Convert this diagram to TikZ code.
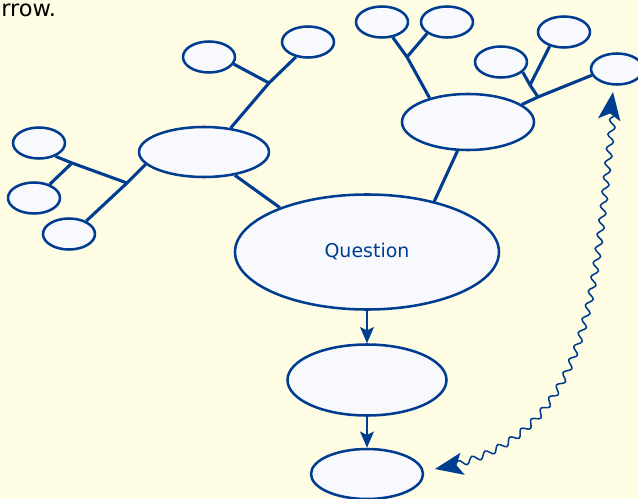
\documentclass[tikz,border=0pt]{standalone}
\usepackage{fontspec}
\setmainfont{DejaVu Sans}
\usetikzlibrary{arrows.meta, positioning, shapes.geometric, decorations.pathmorphing}
\definecolor{cink}{HTML}{003C8F}
\definecolor{cpaper}{HTML}{FEFDE3}
\definecolor{cbubble}{HTML}{F7F9FC}
\tikzset{
  every picture/.style={line width=1.8pt},
  bubble/.style 2 args={ellipse, draw=cink, fill=cbubble, inner sep=0pt, minimum width=#1*0.025cm, minimum height=#2*0.025cm},
  leaf/.style={bubble={52}{31}},
  edge/.style={draw=cink, line width=2.2pt},
  arrow/.style={-{Stealth[length=4mm, width=3.4mm, inset=0.8mm]}, draw=cink, line width=1.9pt},
  wavy/.style={{Stealth[length=7mm, width=5.6mm, inset=1.6mm]}-{Stealth[length=7mm, width=5.6mm, inset=1.6mm]}, draw=cink, line width=1.1pt,
    decorate, decoration={snake, amplitude=0.8mm, segment length=3.6mm, pre length=1.5mm, post length=1.5mm}},
  label/.style={font=\fontsize{13.5}{15}\selectfont, text=cink},
}

\begin{document}
\begin{tikzpicture}[x=0.025cm, y=0.025cm]
  \fill[cpaper] (0,0) rectangle (638,-499);
  \useasboundingbox (0,0) rectangle (638,-499);
  \node[anchor=base west, inner sep=0pt, font=\fontsize{16}{18}\selectfont] (cap) at (0,-17) {rrow.};
  % main chain
  \node[bubble={264}{115}, label] (q) at (367,-252) {Question};
  \node[bubble={159}{71}] (m) at (367,-380) {};
  \node[bubble={112}{50}] (b) at (367,-474) {};
  \node[bubble={130}{50}] (lm) at (204,-152) {};
  \node[bubble={132}{56}] (rm) at (468,-122) {};
  % leaves
  \foreach \n/\x/\y in {la/39/143, lb/34/198, lc/69/234, ta/209/57, tb/308/42, ra/382/22, rb/447/22, rc/501/62, rd/564/32, re/617/69}
    \node[leaf] (\n) at (\x,-\y) {};
  % branching points
  \coordinate (j1) at (127,-183);
  \coordinate (j2) at (72,-163);
  \coordinate (j3) at (269,-83);
  \coordinate (j4) at (407,-57);
  \coordinate (j5) at (538,-97);
  \coordinate (j6) at (530,-85);
  \draw[edge] (q.153) -- (lm.-37);
  \draw[edge] (q.37) -- (rm.250);
  \draw[edge] (lm.192) -- (j1) -- (lc.37);
  \draw[edge] (j1) -- (j2) -- (la.-39);
  \draw[edge] (j2) -- (lb.41);
  \draw[edge] (lm.42) -- (j3) -- (tb.231);
  \draw[edge] (j3) -- (ta.-16);
  \draw[edge] (rm.148) -- (j4) -- (ra.-55);
  \draw[edge] (j4) -- (rb.210);
  \draw[edge] (rm.18) -- (j5) -- (re.194);
  \draw[edge] (j5) -- (j6) -- (rc.-25);
  \draw[edge] (j6) -- (rd.225);
  % arrows
  \draw[arrow] (q) -- (m);
  \draw[arrow] (m) -- (b);
  \coordinate (wb) at (435,-469);
  \coordinate (wt) at (613,-92);
  \draw[wavy] (wb) to[out=10, in=-98, looseness=1.05] (wt);
\end{tikzpicture}
\end{document}
